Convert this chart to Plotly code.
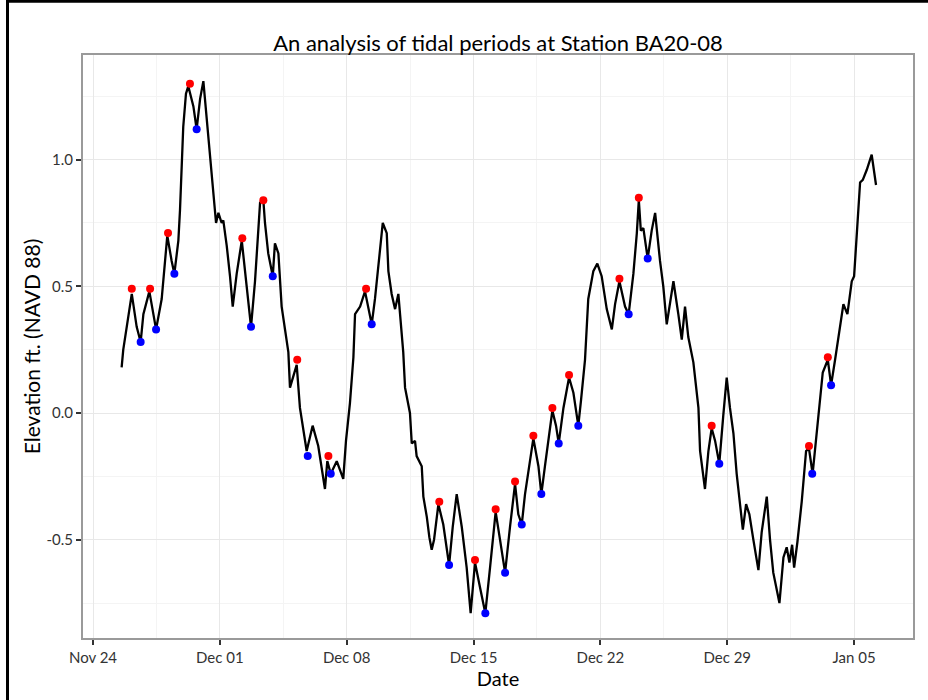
import pandas as pd
import plotly.graph_objects as go

START = "2012-11-24"

# Elevation series: days since Nov 24 and elevation (ft, NAVD 88)
series_days = [1.58, 1.67, 2.14, 2.41, 2.63, 2.78, 3.11, 3.33, 3.48, 3.79, 3.97, 4.10, 4.34, 4.49,
               4.71, 4.80, 4.98, 5.13, 5.26, 5.54, 5.72, 5.91, 6.09, 6.27, 6.46, 6.64, 6.79, 6.92,
               7.10, 7.19, 7.38, 7.56, 7.71, 7.93, 8.21, 8.48, 8.72, 8.94, 9.22, 9.40, 9.49, 9.67,
               9.92, 10.04, 10.23, 10.41, 10.78, 10.87, 11.24, 11.42, 11.79, 12.12, 12.43, 12.80,
               12.93, 13.12, 13.45, 13.81, 13.96, 14.18, 14.37, 14.46, 14.74, 15.01, 15.38, 15.56,
               15.84, 15.99, 16.21, 16.30, 16.48, 16.67, 16.85, 16.98, 17.12, 17.22, 17.49, 17.59,
               17.77, 17.86, 18.14, 18.23, 18.42, 18.56, 18.69, 18.82, 19.06, 19.33, 19.65, 19.85,
               20.07, 20.35, 20.62, 20.84, 20.99, 21.08, 21.36, 21.65, 21.91, 22.22, 22.46, 22.74,
               23.01, 23.29, 23.47, 23.66, 23.84, 24.30, 24.58, 24.74, 24.94, 25.35, 25.55, 25.70,
               25.96, 26.27, 26.51, 26.78, 26.93, 27.15, 27.33, 27.61, 27.83, 28.07, 28.35, 28.63,
               28.81, 29.05, 29.36, 29.56, 29.82, 30.01, 30.12, 30.23, 30.37, 30.61, 30.83, 31.02,
               31.29, 31.47, 31.66, 32.03, 32.30, 32.49, 32.67, 32.85, 33.13, 33.41, 33.50, 33.77,
               33.96, 34.14, 34.33, 34.56, 34.78, 34.97, 35.15, 35.34, 35.52, 35.71, 35.86, 36.04,
               36.22, 36.44, 36.72, 36.90, 37.18, 37.36, 37.54, 37.88, 38.10, 38.28, 38.43, 38.58,
               38.69, 38.87, 39.11, 39.35, 39.51, 39.71, 39.94, 40.27, 40.55, 40.73, 40.95, 41.13,
               41.41, 41.63, 41.87, 42.00, 42.15, 42.33, 42.48, 42.70, 42.97, 43.21]
series_elev = [0.18, 0.25, 0.47, 0.34, 0.28, 0.39, 0.48, 0.39, 0.33, 0.45, 0.60, 0.70, 0.60, 0.55,
               0.68, 0.80, 1.13, 1.26, 1.29, 1.21, 1.12, 1.24, 1.31, 1.16, 1.00, 0.87, 0.75, 0.79,
               0.75, 0.76, 0.66, 0.54, 0.42, 0.55, 0.68, 0.50, 0.34, 0.52, 0.83, 0.84, 0.75, 0.63,
               0.54, 0.67, 0.63, 0.42, 0.24, 0.10, 0.19, 0.02, -0.15, -0.05, -0.13, -0.30,
               -0.19, -0.24, -0.19, -0.26, -0.11, 0.04, 0.22, 0.39, 0.42, 0.48, 0.35, 0.45,
               0.66, 0.75, 0.71, 0.56, 0.47, 0.41, 0.47, 0.37, 0.24, 0.10, 0.00, -0.12,
               -0.11, -0.17, -0.21, -0.33, -0.41, -0.49, -0.54, -0.50, -0.36, -0.44, -0.60, -0.45,
               -0.32, -0.45, -0.61, -0.79, -0.66, -0.59, -0.69, -0.79, -0.61, -0.39, -0.50, -0.63,
               -0.45, -0.28, -0.40, -0.44, -0.32, -0.10, -0.21, -0.32, -0.21, 0.01, -0.05, -0.12,
               0.02, 0.14, 0.08, -0.05, 0.05, 0.21, 0.45, 0.56, 0.59, 0.54, 0.41, 0.33,
               0.43, 0.52, 0.42, 0.39, 0.55, 0.71, 0.84, 0.72, 0.73, 0.61, 0.72, 0.79,
               0.60, 0.50, 0.35, 0.52, 0.39, 0.29, 0.42, 0.30, 0.20, 0.02, -0.15, -0.30,
               -0.15, -0.06, -0.11, -0.20, -0.01, 0.14, 0.02, -0.08, -0.24, -0.37, -0.46, -0.36,
               -0.40, -0.50, -0.62, -0.47, -0.33, -0.50, -0.63, -0.75, -0.57, -0.53, -0.59, -0.52,
               -0.61, -0.51, -0.35, -0.15, -0.14, -0.24, -0.07, 0.16, 0.21, 0.11, 0.21, 0.29,
               0.43, 0.39, 0.52, 0.54, 0.70, 0.91, 0.92, 0.96, 1.02, 0.90]

# Detected high points (red)
peak_days = [2.14, 3.15, 4.14, 5.35, 8.24, 9.40, 11.27, 12.99, 15.07, 19.11, 21.08, 22.22,
             23.29, 24.30, 25.35, 26.27, 29.05, 30.12, 34.14, 39.51, 40.55]
peak_elev = [0.49, 0.49, 0.71, 1.30, 0.69, 0.84, 0.21, -0.17, 0.49, -0.35, -0.58, -0.38,
             -0.27, -0.09, 0.02, 0.15, 0.53, 0.85, -0.05, -0.13, 0.22]

# Detected low points (blue)
trough_days = [2.63, 3.48, 4.49, 5.72, 8.72, 9.92, 11.85, 13.12, 15.38, 19.65, 21.65, 22.74,
               23.66, 24.74, 25.70, 26.78, 29.56, 30.61, 34.56, 39.69, 40.73]
trough_elev = [0.28, 0.33, 0.55, 1.12, 0.34, 0.54, -0.17, -0.24, 0.35, -0.60, -0.79, -0.63,
               -0.44, -0.32, -0.12, -0.05, 0.39, 0.61, -0.20, -0.24, 0.11]

y_ticks = [-0.5, 0.0, 0.5, 1.0]
y_tick_labels = ["-0.5", "0.0", "0.5", "1.0"]
x_tick_dates = ["2012-11-24", "2012-12-01", "2012-12-08", "2012-12-15", "2012-12-22",
                "2012-12-29", "2013-01-05"]
x_tick_labels = ["Nov 24", "Dec 01", "Dec 08", "Dec 15", "Dec 22", "Dec 29", "Jan 05"]


def to_dates(days):
    return pd.Timestamp(START) + pd.to_timedelta(days, unit="D")


FONT = "Lato, 'Open Sans', sans-serif"

fig = go.Figure()
fig.add_trace(go.Scatter(x=to_dates(series_days), y=series_elev, mode="lines",
                         line=dict(color="black", width=2.3), showlegend=False))
fig.add_trace(go.Scatter(x=to_dates(peak_days), y=peak_elev, mode="markers",
                         marker=dict(color="#FF0000", size=8), showlegend=False))
fig.add_trace(go.Scatter(x=to_dates(trough_days), y=trough_elev, mode="markers",
                         marker=dict(color="#0000FF", size=8), showlegend=False))

x_left = pd.Timestamp(START) + pd.Timedelta(days=-0.552)
x_right = pd.Timestamp(START) + pd.Timedelta(days=45.25)

fig.update_layout(
    width=928, height=700,
    margin=dict(l=83, r=15, t=55, b=62),
    paper_bgcolor="white", plot_bgcolor="white",
    font=dict(family=FONT, color="#222222"),
    title=dict(text="An analysis of tidal periods at Station BA20-08",
               x=0.5, xref="paper", xanchor="center",
               y=1 - 43 / 700, yref="container", yanchor="middle",
               font=dict(size=22, color="black", family=FONT)),
    xaxis=dict(
        type="date", range=[x_left, x_right],
        tickmode="array", tickvals=x_tick_dates, ticktext=x_tick_labels,
        ticks="outside", ticklen=5, tickwidth=1.5, tickcolor="#333333",
        tickfont=dict(size=15, color="#333333"),
        showgrid=True, gridcolor="#E8E8E8", gridwidth=1.2,
        minor=dict(tick0="2012-11-24", dtick=3.5 * 86400000, showgrid=True,
                   gridcolor="#F4F4F4", gridwidth=1),
        showline=True, mirror=True, linecolor="#9A9A9A", linewidth=2,
        zeroline=False,
        title=dict(text="Date", font=dict(size=20, color="black"), standoff=2),
    ),
    yaxis=dict(
        range=[-0.888, 1.413],
        tickmode="array", tickvals=y_ticks, ticktext=y_tick_labels,
        ticks="outside", ticklen=5, tickwidth=1.5, tickcolor="#333333",
        tickfont=dict(size=15, color="#333333"),
        showgrid=True, gridcolor="#E8E8E8", gridwidth=1.2,
        minor=dict(dtick=0.25, tick0=0, showgrid=True, gridcolor="#F4F4F4", gridwidth=1),
        showline=True, mirror=True, linecolor="#9A9A9A", linewidth=2,
        zeroline=False,
        title=dict(text="Elevation ft. (NAVD 88)", font=dict(size=21, color="black"), standoff=0),
    ),
    shapes=[
        dict(type="line", xref="paper", yref="paper",
             x0=(7.5 - 83) / 830, x1=(7.5 - 83) / 830,
             y0=(638 - 700) / 583, y1=(638 - 0) / 583,
             line=dict(color="black", width=3)),
        dict(type="line", xref="paper", yref="paper",
             x0=(6 - 83) / 830, x1=(928 - 83) / 830,
             y0=(638 - 1.3) / 583, y1=(638 - 1.3) / 583,
             line=dict(color="black", width=3)),
    ],
)

fig.write_html("out.html", config={"displayModeBar": False},
               post_script="document.body.style.margin='0';")
